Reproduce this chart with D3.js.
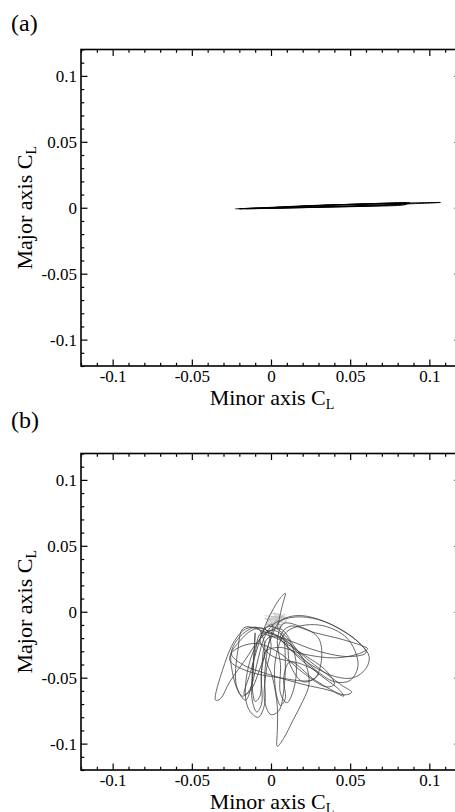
<!DOCTYPE html>
<html>
<head>
<meta charset="utf-8">
<script src="https://cdn.jsdelivr.net/npm/d3@7"></script>
<style>
  html, body { margin: 0; padding: 0; background: #fff; overflow: hidden; }
  text { font-family: "Liberation Serif", "Times New Roman", serif; fill: #000; }
</style>
</head>
<body>
<div id="chart"></div>
<script>
// axis ticks
const majorTicks = [-0.1, -0.05, 0, 0.05, 0.1];
const majorLabels = ["-0.1", "-0.05", "0", "0.05", "0.1"];
const minorTicks = [-0.12, -0.11, -0.09, -0.08, -0.07, -0.06, -0.04, -0.03, -0.02, -0.01,
                    0.01, 0.02, 0.03, 0.04, 0.06, 0.07, 0.08, 0.09, 0.11, 0.12];

// (a) trajectory: [minor axis CL, major axis CL]
const orbitA = [
    [-0.0225, -0.0008], [0.0, 0.0001], [0.03, 0.0017], [0.06, 0.0030], [0.085, 0.0038],
    [0.088, 0.0035], [0.07, 0.0017], [0.04, 0.0007], [0.01, -0.0002], [-0.020, -0.0008],
    [0.0, 0.0003], [0.03, 0.0019], [0.06, 0.0027], [0.086, 0.0031], [0.084, 0.0022],
    [0.06, 0.0011], [0.03, 0.0003], [0.0, -0.0004], [-0.016, -0.0007], [0.01, 0.0006],
    [0.04, 0.0022], [0.07, 0.0033], [0.087, 0.0036], [0.08, 0.0026], [0.05, 0.0012],
    [0.02, 0.0004], [0.0, -0.0002], [0.02, 0.0010], [0.05, 0.0024], [0.08, 0.0034],
    [0.107, 0.0040], [0.09, 0.0031], [0.06, 0.0018], [0.03, 0.0008], [0.005, 0.0000]
];

// (b) trajectory
const orbitB = [
    [0.004, -0.012], [0.007, 0.004], [0.009, 0.014], [0.005, 0.009], [-0.002, -0.006],
    [-0.008, -0.025], [-0.013, -0.046], [-0.017, -0.063], [-0.013, -0.060], [-0.006, -0.040],
    [0.000, -0.020], [0.005, -0.008], [0.011, -0.004], [0.020, -0.003], [0.033, -0.007],
    [0.046, -0.015], [0.057, -0.025], [0.062, -0.034], [0.060, -0.043], [0.052, -0.050],
    [0.040, -0.049], [0.025, -0.040], [0.012, -0.028], [0.002, -0.017], [-0.008, -0.012],
    [-0.016, -0.013], [-0.023, -0.022], [-0.030, -0.042], [-0.035, -0.067], [-0.032, -0.066],
    [-0.026, -0.053], [-0.016, -0.036], [-0.008, -0.022], [0.000, -0.014], [0.007, -0.018],
    [0.009, -0.036], [0.008, -0.060], [0.005, -0.075], [0.000, -0.078], [-0.004, -0.068],
    [-0.003, -0.045], [0.000, -0.024], [-0.004, -0.013], [-0.012, -0.014], [-0.021, -0.024],
    [-0.025, -0.032], [-0.018, -0.040], [0.000, -0.048], [0.020, -0.055], [0.038, -0.060],
    [0.046, -0.064], [0.043, -0.059], [0.030, -0.047], [0.015, -0.032], [0.006, -0.019],
    [0.012, -0.011], [0.028, -0.016], [0.045, -0.021], [0.058, -0.026], [0.061, -0.028],
    [0.055, -0.032], [0.040, -0.035], [0.020, -0.032], [0.005, -0.027], [-0.004, -0.031],
    [0.001, -0.050], [0.004, -0.072], [0.004, -0.090], [0.004, -0.102], [0.008, -0.096],
    [0.014, -0.082], [0.020, -0.068], [0.024, -0.055], [0.022, -0.040], [0.014, -0.025],
    [0.006, -0.013], [-0.003, -0.016], [-0.010, -0.027], [-0.015, -0.046], [-0.016, -0.066],
    [-0.013, -0.076], [-0.008, -0.080], [-0.004, -0.070], [-0.004, -0.048], [-0.002, -0.027],
    [0.001, -0.010], [-0.006, -0.015], [0.005, -0.021], [0.020, -0.032], [0.035, -0.045],
    [0.040, -0.055], [0.035, -0.057], [0.020, -0.046], [0.005, -0.031], [-0.010, -0.024],
    [-0.024, -0.030], [-0.026, -0.037], [-0.015, -0.045], [0.005, -0.050], [0.025, -0.052],
    [0.030, -0.047], [0.020, -0.040], [0.000, -0.033], [-0.007, -0.021], [-0.001, -0.011],
    [0.011, -0.021], [0.016, -0.040], [0.014, -0.060], [0.010, -0.069], [0.006, -0.062],
    [0.006, -0.040], [0.004, -0.022], [0.008, -0.009], [0.020, -0.012], [0.030, -0.020],
    [0.032, -0.035], [0.028, -0.050], [0.020, -0.053], [0.012, -0.040], [0.009, -0.022],
    [-0.006, -0.016], [-0.010, -0.031], [-0.012, -0.050], [-0.010, -0.068], [-0.007, -0.064],
    [-0.006, -0.045], [-0.004, -0.025], [-0.009, -0.012], [-0.018, -0.017], [-0.025, -0.030],
    [-0.024, -0.048], [-0.020, -0.062], [-0.016, -0.067], [-0.012, -0.055], [-0.008, -0.035],
    [-0.004, -0.019], [0.002, -0.009], [0.015, -0.004], [0.030, -0.006], [0.045, -0.014],
    [0.056, -0.024], [0.060, -0.031], [0.050, -0.034], [0.030, -0.030], [0.012, -0.022],
    [-0.002, -0.016], [-0.017, -0.012], [-0.021, -0.030], [-0.022, -0.055], [-0.018, -0.064],
    [-0.013, -0.058], [-0.011, -0.035], [-0.010, -0.016], [-0.011, -0.040], [-0.012, -0.066],
    [-0.009, -0.076], [-0.006, -0.070], [-0.006, -0.045], [-0.002, -0.020], [0.006, -0.020],
    [0.025, -0.038], [0.045, -0.056], [0.051, -0.061], [0.046, -0.063], [0.028, -0.052],
    [0.012, -0.038], [0.008, -0.050], [0.009, -0.066], [0.006, -0.071], [0.003, -0.060],
    [0.003, -0.035], [0.010, -0.015], [0.030, -0.010], [0.048, -0.020], [0.055, -0.040],
    [0.050, -0.052], [0.040, -0.053], [0.028, -0.044], [0.016, -0.030], [0.006, -0.016]
];

// (b) dense grey patch near the origin
const patchB = [
    [-0.004, -0.003], [0.008, -0.006], [-0.003, -0.010], [0.009, -0.002], [0.000, -0.012],
    [0.007, -0.011], [-0.004, -0.005], [0.010, -0.008], [0.002, -0.001], [0.006, -0.012],
    [-0.002, -0.007], [0.009, -0.004], [0.002, -0.010], [0.005, -0.002], [-0.003, -0.009],
    [0.008, -0.009], [0.000, -0.004], [0.010, -0.005], [0.003, -0.012], [-0.001, -0.002],
    [0.007, -0.003], [-0.002, -0.011], [0.004, -0.006]
];

const width = 455;
const height = 812;

const svg = d3.select("#chart")
    .append("svg")
    .attr("width", width)
    .attr("height", height);

const x = d3.scaleLinear().domain([-0.12, 0.12]).range([81, 461]);

function axisTitle(g, tx, ty, rot, label) {
    const t = g.append("text")
        .attr("transform", `translate(${tx},${ty}) rotate(${rot})`)
        .attr("text-anchor", "middle")
        .style("font-size", "22px");
    t.append("tspan").text(label + " C");
    t.append("tspan").attr("dy", 4).style("font-size", "14px").text("L");
}

function drawPanel(top, bottom, tag, tagY, orbit, stroke, sw, patch) {
    const y = d3.scaleLinear().domain([-0.12, 0.12]).range([bottom, top]);
    const g = svg.append("g");

    const line = d3.line()
        .x(d => x(d[0]))
        .y(d => y(d[1]))
        .curve(d3.curveCatmullRom.alpha(0.5));

    if (patch) {
        g.append("path")
            .attr("d", line(patch))
            .attr("fill", "none")
            .attr("stroke", "#b8b8b8")
            .attr("stroke-width", 0.7);
    }

    g.append("path")
        .attr("d", line(orbit))
        .attr("fill", "none")
        .attr("stroke", stroke)
        .attr("stroke-width", sw);

    const fmt = d => majorLabels[majorTicks.indexOf(d)];

    // labelled axes
    g.append("g").attr("transform", `translate(0,${bottom})`)
        .call(d3.axisBottom(x).tickValues(majorTicks).tickSize(-6.5).tickPadding(4).tickFormat(fmt));
    g.append("g").attr("transform", "translate(81,0)")
        .call(d3.axisLeft(y).tickValues(majorTicks).tickSize(-6.5).tickPadding(4).tickFormat(fmt));
    g.append("g").attr("transform", `translate(0,${top})`)
        .call(d3.axisTop(x).tickValues(majorTicks).tickSize(-6.5).tickFormat(""));
    g.append("g").attr("transform", "translate(461,0)")
        .call(d3.axisRight(y).tickValues(majorTicks).tickSize(-6.5).tickFormat(""));

    // minor ticks
    g.append("g").attr("transform", `translate(0,${bottom})`)
        .call(d3.axisBottom(x).tickValues(minorTicks).tickSize(-3.3).tickFormat(""));
    g.append("g").attr("transform", "translate(81,0)")
        .call(d3.axisLeft(y).tickValues(minorTicks).tickSize(-3.3).tickFormat(""));
    g.append("g").attr("transform", `translate(0,${top})`)
        .call(d3.axisTop(x).tickValues(minorTicks).tickSize(-3.3).tickFormat(""));
    g.append("g").attr("transform", "translate(461,0)")
        .call(d3.axisRight(y).tickValues(minorTicks).tickSize(-3.3).tickFormat(""));

    g.selectAll(".domain").remove();
    g.selectAll(".tick line").attr("stroke", "#000").attr("stroke-width", 1.2);
    g.selectAll(".tick text")
        .style("font-family", "'Liberation Serif', serif")
        .style("font-size", "17px")
        .attr("fill", "#000");

    g.append("rect")
        .attr("x", 81).attr("y", top)
        .attr("width", 380).attr("height", bottom - top)
        .attr("fill", "none")
        .attr("stroke", "#000")
        .attr("stroke-width", 1.6);

    axisTitle(g, 272, bottom + 39, 0, "Minor axis");
    axisTitle(g, 31.5, (top + bottom) / 2, -90, "Major axis");

    g.append("text")
        .attr("x", 11).attr("y", tagY)
        .style("font-size", "24px")
        .text(tag);
}

drawPanel(49.5, 366, "(a)", 31, orbitA, "#000", 1, null);
drawPanel(453.5, 770, "(b)", 428, orbitB, "#404040", 0.8, patchB);
</script>
</body>
</html>
